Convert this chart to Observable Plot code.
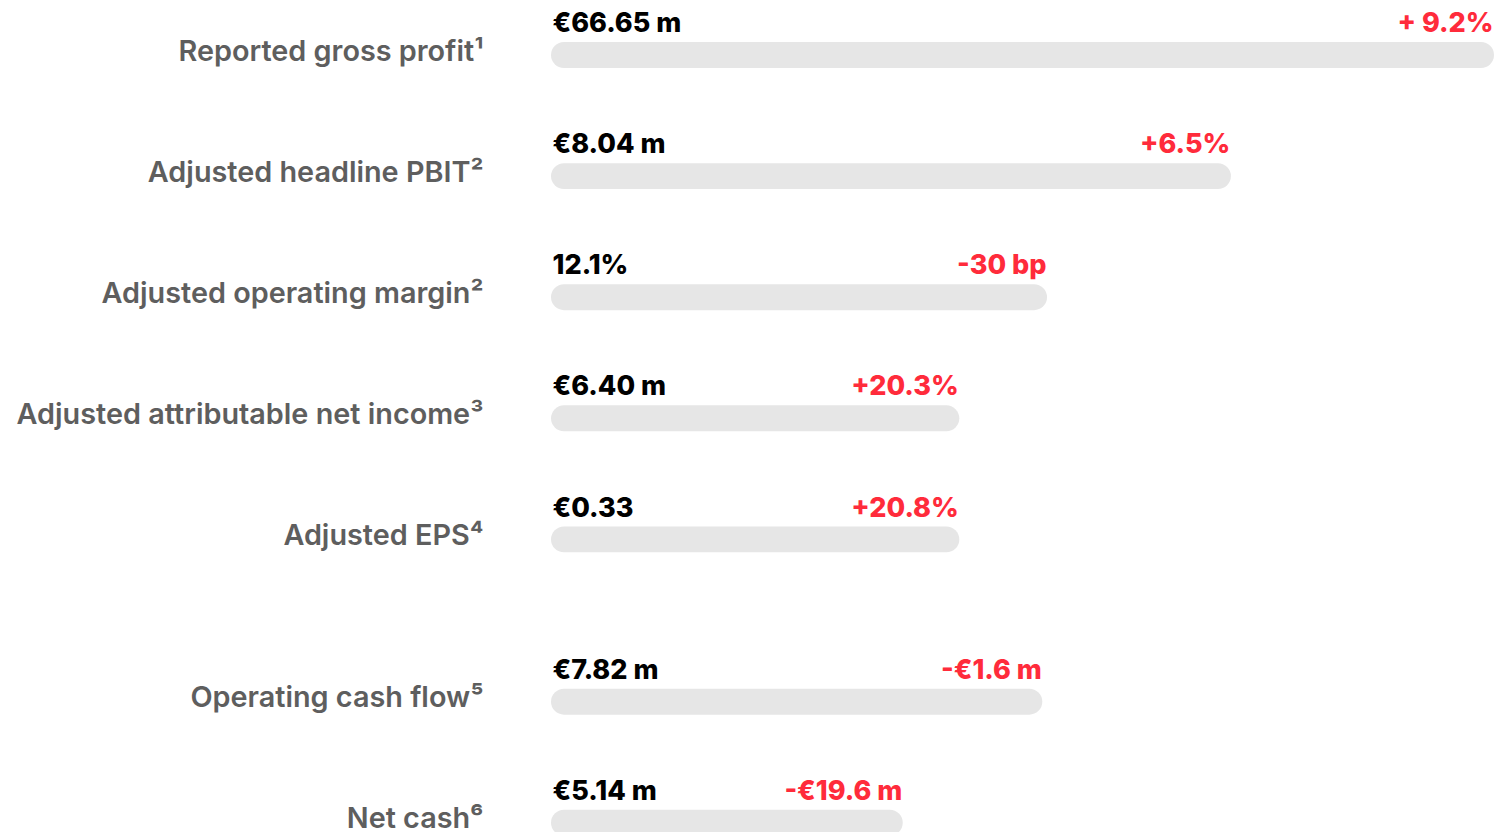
<!DOCTYPE html>
<html>
<head>
<meta charset="utf-8">
<script src="https://cdn.jsdelivr.net/npm/d3@7"></script>
<script src="https://cdn.jsdelivr.net/npm/@observablehq/plot@0.6"></script>
<style>
  html, body { margin: 0; padding: 0; background: #fff; }
  #chart svg { display: block; font-family: Inter, "Noto Sans", sans-serif; }
</style>
</head>
<body>
<div id="chart"></div>
<script>
const metrics = [
  "Reported gross profit¹",
  "Adjusted headline PBIT²",
  "Adjusted operating margin²",
  "Adjusted attributable net income³",
  "Adjusted EPS⁴",
  "Operating cash flow⁵",
  "Net cash⁶"
];
const values = ["€66.65 m", "€8.04 m", "12.1%", "€6.40 m", "€0.33", "€7.82 m", "€5.14 m"];
const changes = ["+ 9.2%", "+6.5%", "-30 bp", "+20.3%", "+20.8%", "-€1.6 m", "-€19.6 m"];
const barLength = [100, 72.1, 52.6, 43.3, 43.3, 52.1, 37.3]; // relative bar length, % of longest
const section = [0, 0, 0, 0, 0, 1, 1];

const SECTION_GAP = 0.34;
const HALF = 0.107;
const data = metrics.map((m, i) => ({
  metric: m, value: values[i], change: changes[i], len: barLength[i],
  pos: i + section[i] * SECTION_GAP
}));

const chart = Plot.plot({
  width: 1497,
  height: 832,
  margin: 0,
  x: {domain: [0, 100], range: [551, 1494], axis: null},
  y: {domain: [0, 6 + SECTION_GAP], range: [55, 55 + 121.1 * (6 + SECTION_GAP)], axis: null},
  style: {background: "#fff", fontFamily: "Inter, 'Noto Sans', sans-serif"},
  marks: [
    Plot.rect(data, {x1: 0, x2: "len", y1: d => d.pos - HALF, y2: d => d.pos + HALF, fill: "#e6e6e6", rx: 13}),
    Plot.text(data, {x: 0, y: "pos", text: "value", textAnchor: "start", dx: 1, dy: -32, fontSize: 27, fontWeight: 800, fill: "#000"}),
    Plot.text(data, {x: "len", y: "pos", text: "change", textAnchor: "end", dx: -1, dy: -32, fontSize: 27, fontWeight: 800, fill: "#ff2b3b"}),
    Plot.text(data, {x: 0, y: "pos", text: "metric", textAnchor: "end", dx: -68, dy: -4, fontSize: 28.8, fontWeight: 600, fill: "#5e5e5e"})
  ]
});
document.getElementById("chart").appendChild(chart);
</script>
</body>
</html>
